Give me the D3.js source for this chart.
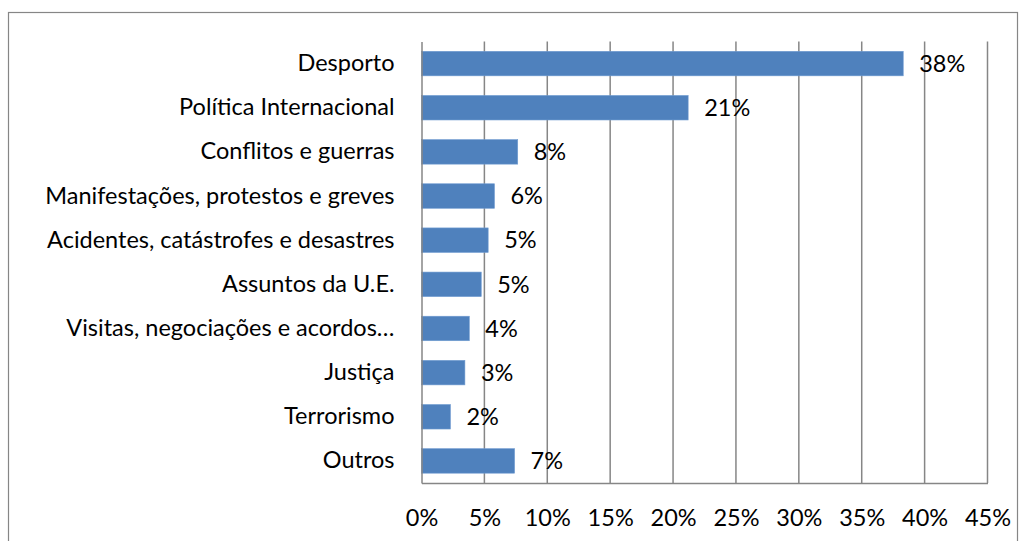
<!DOCTYPE html>
<html>
<head>
<meta charset="utf-8">
<title>temas</title>
<script src="https://cdn.jsdelivr.net/npm/d3@7"></script>
<style>
  body { margin: 0; background: #fff; }
  text { font-family: Lato, "Noto Sans", sans-serif; fill: #000; }
</style>
</head>
<body>
<div id="app"></div>
<script>
// categorias e valores (%)
var categories = ["Desporto", "Política Internacional", "Conflitos e guerras",
  "Manifestações, protestos e greves", "Acidentes, catástrofes e desastres",
  "Assuntos da U.E.", "Visitas, negociações e acordos…", "Justiça",
  "Terrorismo", "Outros"];
var values = [38.3, 21.2, 7.65, 5.8, 5.3, 4.75, 3.8, 3.45, 2.3, 7.4];
var ticks = [0, 5, 10, 15, 20, 25, 30, 35, 40, 45];

var W = 1025, H = 541;
var m = {top: 41.5, left: 421.5, right: 1025 - 987.5, bottom: 541 - 483};
var fs = "23.5px";

var svg = d3.select("#app").append("svg").attr("width", W).attr("height", H);

// moldura do gráfico
svg.append("rect")
  .attr("x", 8.5).attr("y", 12.5).attr("width", 1009).attr("height", 545)
  .attr("fill", "none").attr("stroke", "#868686").attr("stroke-width", 1.2);

var x = d3.scaleLinear().domain([0, 45]).range([m.left, W - m.right]);
var y = d3.scaleBand().domain(categories).range([m.top, H - m.bottom]).paddingInner(0.445).paddingOuter(0.2225);

// grelha vertical
svg.append("g").selectAll("line").data(ticks.slice(1)).enter().append("line")
  .attr("x1", function (d) { return x(d); }).attr("x2", function (d) { return x(d); })
  .attr("y1", m.top).attr("y2", H - m.bottom)
  .attr("stroke", "#868686").attr("stroke-width", 1.5);

// barras
svg.append("g").selectAll("rect").data(values).enter().append("rect")
  .attr("x", x(0))
  .attr("y", function (d, i) { return y(categories[i]); })
  .attr("width", function (d) { return x(d) - x(0); })
  .attr("height", y.bandwidth())
  .attr("fill", "#4F81BD").attr("stroke", "#6f9bd1").attr("stroke-width", 0.6);

// eixo x
var xa = svg.append("g").attr("transform", "translate(0," + (H - m.bottom) + ")")
  .call(d3.axisBottom(x).tickValues(ticks).tickSize(0).tickPadding(26).tickFormat(function (d) { return d + "%"; }));
xa.select(".domain").attr("stroke", "#868686").attr("stroke-width", 1.5);
xa.selectAll("text").style("font-size", fs).style("font-family", "Lato, sans-serif").attr("fill", "#000");

// eixo y
var ya = svg.append("g").attr("transform", "translate(" + x(0) + ",0)")
  .call(d3.axisLeft(y).tickSize(0).tickPadding(27));
ya.select(".domain").attr("stroke", "#868686").attr("stroke-width", 1.5);
ya.selectAll("text").style("font-size", fs).style("font-family", "Lato, sans-serif").attr("fill", "#000");

// rótulos de valor
var fmt = d3.format(".0%");
svg.append("g").selectAll("text").data(values).enter().append("text")
  .attr("x", function (d) { return x(d) + 16; })
  .attr("y", function (d, i) { return y(categories[i]) + y.bandwidth() / 2; })
  .attr("dy", "0.35em")
  .style("font-size", fs)
  .text(function (d) { return fmt(d / 100); });
</script>
</body>
</html>
